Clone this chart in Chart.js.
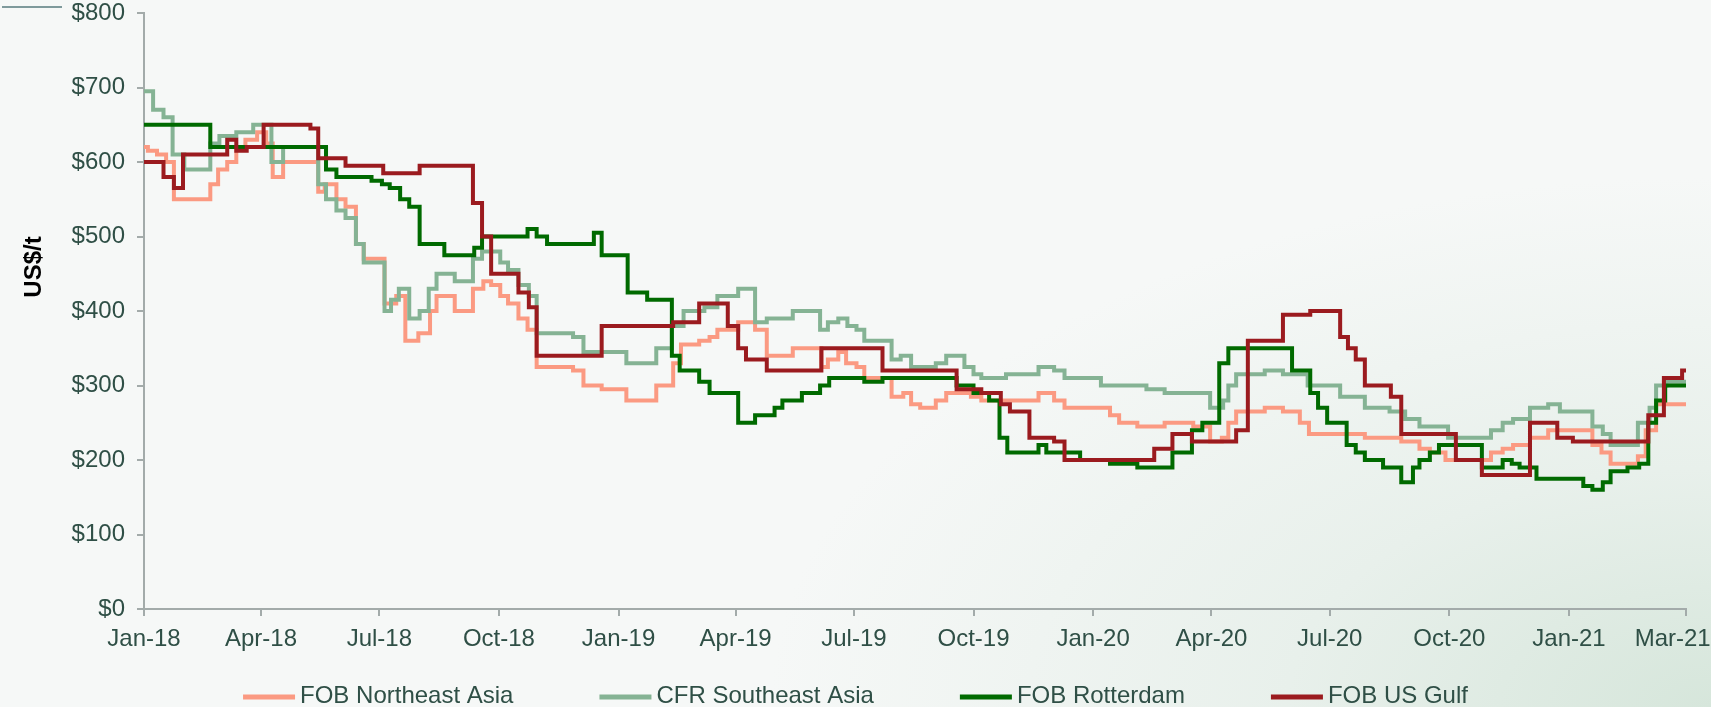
<!DOCTYPE html>
<html>
<head>
<meta charset="utf-8">
<script src="https://cdn.jsdelivr.net/npm/chart.js@4.4.0/dist/chart.umd.min.js"></script>
<style>
  html, body { margin: 0; padding: 0; width: 1711px; height: 707px; overflow: hidden; }
  body { background: radial-gradient(ellipse 55% 75% at 100% 100%, #d6e6db 0%, #e8f0eb 45%, #f6f8f7 100%); }
  #wrap { position: relative; width: 1711px; height: 707px; }
  #deco { position: absolute; left: 2px; top: 6px; width: 60px; height: 2px; background: #7f9a9c; }
  canvas { position: absolute; left: 0; top: 0; }
</style>
</head>
<body>
<div id="wrap">
  <div id="deco"></div>
  <canvas id="c" width="1711" height="707"></canvas>
</div>
<script>
// ---------------- DATA (x = days since 1 Jan 2018; value holds until next change) ----------------
const seriesNames = ['FOB Northeast Asia', 'CFR Southeast Asia', 'FOB Rotterdam', 'FOB US Gulf'];
const yAxisTitle = 'US$/t';

const tickDays   = [0, 90, 181, 273, 365, 455, 546, 638, 730, 821, 912, 1004, 1096, 1186];
const tickLabels = ['Jan-18','Apr-18','Jul-18','Oct-18','Jan-19','Apr-19','Jul-19','Oct-19','Jan-20','Apr-20','Jul-20','Oct-20','Jan-21','Mar-21'];

const neAsiaDays = [0,3,10,17,23,51,57,64,71,78,87,94,99,107,134,139,148,155,163,169,185,194,201,211,220,225,239,253,261,267,274,280,288,295,302,330,338,352,371,394,407,413,427,435,441,457,470,479,499,521,526,534,540,548,554,575,584,590,597,609,617,636,644,688,700,708,743,750,764,785,807,820,829,834,840,862,876,889,896,939,967,981,989,1001,1036,1045,1053,1066,1080,1114,1121,1128,1149,1155,1163,1186];
const neAsiaVals = [620,615,610,600,550,570,590,600,620,630,640,625,580,600,560,570,550,540,490,470,410,420,360,370,400,420,400,430,440,435,420,410,390,375,325,320,300,295,280,300,330,355,360,365,375,385,375,340,350,325,335,345,330,325,310,285,290,275,270,280,290,285,280,290,280,270,260,250,245,250,245,225,230,250,265,270,265,250,235,230,225,215,210,200,210,215,220,230,240,220,210,195,205,240,275,275];

const seAsiaDays = [0,7,15,22,31,51,58,71,84,98,107,134,140,148,155,163,169,185,190,196,204,212,219,225,239,253,260,274,280,288,296,302,330,338,371,394,406,415,431,441,457,470,479,499,520,526,534,541,548,554,575,582,590,609,617,631,638,644,663,688,700,708,736,771,785,820,830,834,840,862,876,895,920,939,958,970,981,1003,1036,1045,1053,1066,1080,1089,1114,1122,1128,1149,1158,1163,1171,1186];
const seAsiaVals = [695,670,660,610,590,625,635,640,650,600,620,570,550,535,525,490,465,400,415,430,390,400,430,450,440,470,480,465,455,435,420,370,365,345,330,350,380,400,405,420,430,385,390,400,375,385,390,380,375,360,335,340,325,330,340,325,315,310,315,325,320,310,300,295,290,270,280,300,315,320,315,300,285,270,265,255,245,230,240,250,255,270,275,265,245,235,220,250,270,300,305,305];

const rotterdamDays = [0,51,140,148,175,183,189,197,204,212,231,254,260,295,302,310,346,352,372,387,406,412,427,435,457,470,485,491,506,520,527,554,568,625,638,650,658,664,688,694,720,743,764,791,806,814,827,834,883,897,903,910,925,932,939,953,967,976,981,989,996,1029,1045,1052,1058,1071,1107,1114,1122,1128,1141,1150,1157,1163,1170,1186];
const rotterdamVals = [650,620,590,580,575,570,565,550,540,490,475,485,500,510,500,490,505,475,425,415,340,320,305,290,250,260,270,280,290,300,310,305,310,300,290,280,230,210,220,210,200,195,190,210,240,250,330,350,320,290,270,250,220,210,200,190,170,190,200,210,220,190,200,195,190,175,165,160,170,185,190,195,250,280,300,300];

const usGulfDays = [0,15,23,30,64,71,79,92,128,134,155,184,212,253,260,267,288,296,302,352,407,427,449,457,463,479,521,568,625,644,659,666,681,700,708,777,791,806,840,849,876,897,920,926,932,939,959,967,1009,1029,1066,1087,1099,1157,1169,1183,1186];
const usGulfVals = [600,580,565,610,630,615,620,650,645,605,595,585,595,545,500,450,425,405,340,380,385,410,380,350,335,320,350,320,295,290,275,265,230,225,200,215,235,225,240,360,395,400,365,350,335,300,285,235,200,180,250,230,225,260,310,320,320];

// ---------------- STYLE ----------------
const FONT = "'Liberation Sans', Arial, sans-serif";
const TEXT = '#2f4f46';
const AXIS = '#a3abaa';
const COLORS = ['#fb9a82', '#85b394', '#006a00', '#9b1b1f'];

function toPoints(days, vals) { return days.map((d, i) => ({ x: d, y: vals[i] })); }

const seriesData = [
  toPoints(neAsiaDays, neAsiaVals),
  toPoints(seAsiaDays, seAsiaVals),
  toPoints(rotterdamDays, rotterdamVals),
  toPoints(usGulfDays, usGulfVals)
];

const yTitlePlugin = {
  id: 'yTitle',
  afterDraw(chart) {
    const c = chart.ctx;
    c.save();
    c.translate(34, 267);
    c.rotate(-Math.PI / 2);
    c.font = 'bold 24px ' + FONT;
    c.fillStyle = '#000';
    c.textAlign = 'center';
    c.textBaseline = 'middle';
    c.fillText(yAxisTitle, 0, 0);
    c.restore();
  }
};

const bottomLegendPlugin = {
  id: 'bottomLegend',
  afterDraw(chart) {
    const c = chart.ctx;
    c.save();
    c.font = '24px ' + FONT;
    const sw = 52, gap = 5, spacing = 86;
    const items = chart.data.datasets.map(ds => ({ label: ds.label, color: ds.borderColor, w: c.measureText(ds.label).width }));
    const total = items.reduce((a, it) => a + sw + gap + it.w, 0) + spacing * (items.length - 1);
    let x = (chart.width - total) / 2;
    items.forEach(it => {
      c.strokeStyle = it.color;
      c.lineWidth = 5;
      c.beginPath();
      c.moveTo(x, 697);
      c.lineTo(x + sw, 697);
      c.stroke();
      c.fillStyle = TEXT;
      c.textAlign = 'left';
      c.textBaseline = 'middle';
      c.fillText(it.label, x + sw + gap, 696);
      x += sw + gap + it.w + spacing;
    });
    c.restore();
  }
};

new Chart(document.getElementById('c'), {
  type: 'line',
  data: {
    datasets: seriesNames.map((name, i) => ({
      label: name,
      data: seriesData[i],
      borderColor: COLORS[i],
      backgroundColor: COLORS[i],
      borderWidth: 4,
      stepped: true,
      pointRadius: 0,
      fill: false,
      order: 4 - i
    }))
  },
  options: {
    responsive: false,
    animation: false,
    devicePixelRatio: 1,
    layout: { padding: { left: 0, right: 25, top: 13, bottom: 0 } },
    plugins: { legend: { display: false }, tooltip: { enabled: false } },
    scales: {
      x: {
        type: 'linear',
        min: tickDays[0],
        max: tickDays[tickDays.length - 1],
        afterBuildTicks: s => { s.ticks = tickDays.map(v => ({ value: v })); },
        afterFit: s => { s.height = 98; s.paddingLeft = 0; s.paddingRight = 0; },
        ticks: {
          autoSkip: false, maxRotation: 0, minRotation: 0, padding: 9,
          color: TEXT, font: { family: FONT, size: 24 },
          callback: (v, i) => (i === tickLabels.length - 1 ? tickLabels[i] + '    ' : tickLabels[i])
        },
        grid: { drawOnChartArea: false, drawTicks: true, tickLength: 7, color: AXIS, lineWidth: 2 },
        border: { display: true, color: AXIS, width: 2 }
      },
      y: {
        min: 0, max: 800,
        afterFit: s => { s.width = 144; s.paddingTop = 0; s.paddingBottom = 0; },
        ticks: {
          stepSize: 100, padding: 12,
          color: TEXT, font: { family: FONT, size: 24 },
          callback: v => '$' + v
        },
        grid: { drawOnChartArea: false, drawTicks: true, tickLength: 7, color: AXIS, lineWidth: 2 },
        border: { display: true, color: AXIS, width: 2 }
      }
    }
  },
  plugins: [yTitlePlugin, bottomLegendPlugin]
});
</script>
</body>
</html>
